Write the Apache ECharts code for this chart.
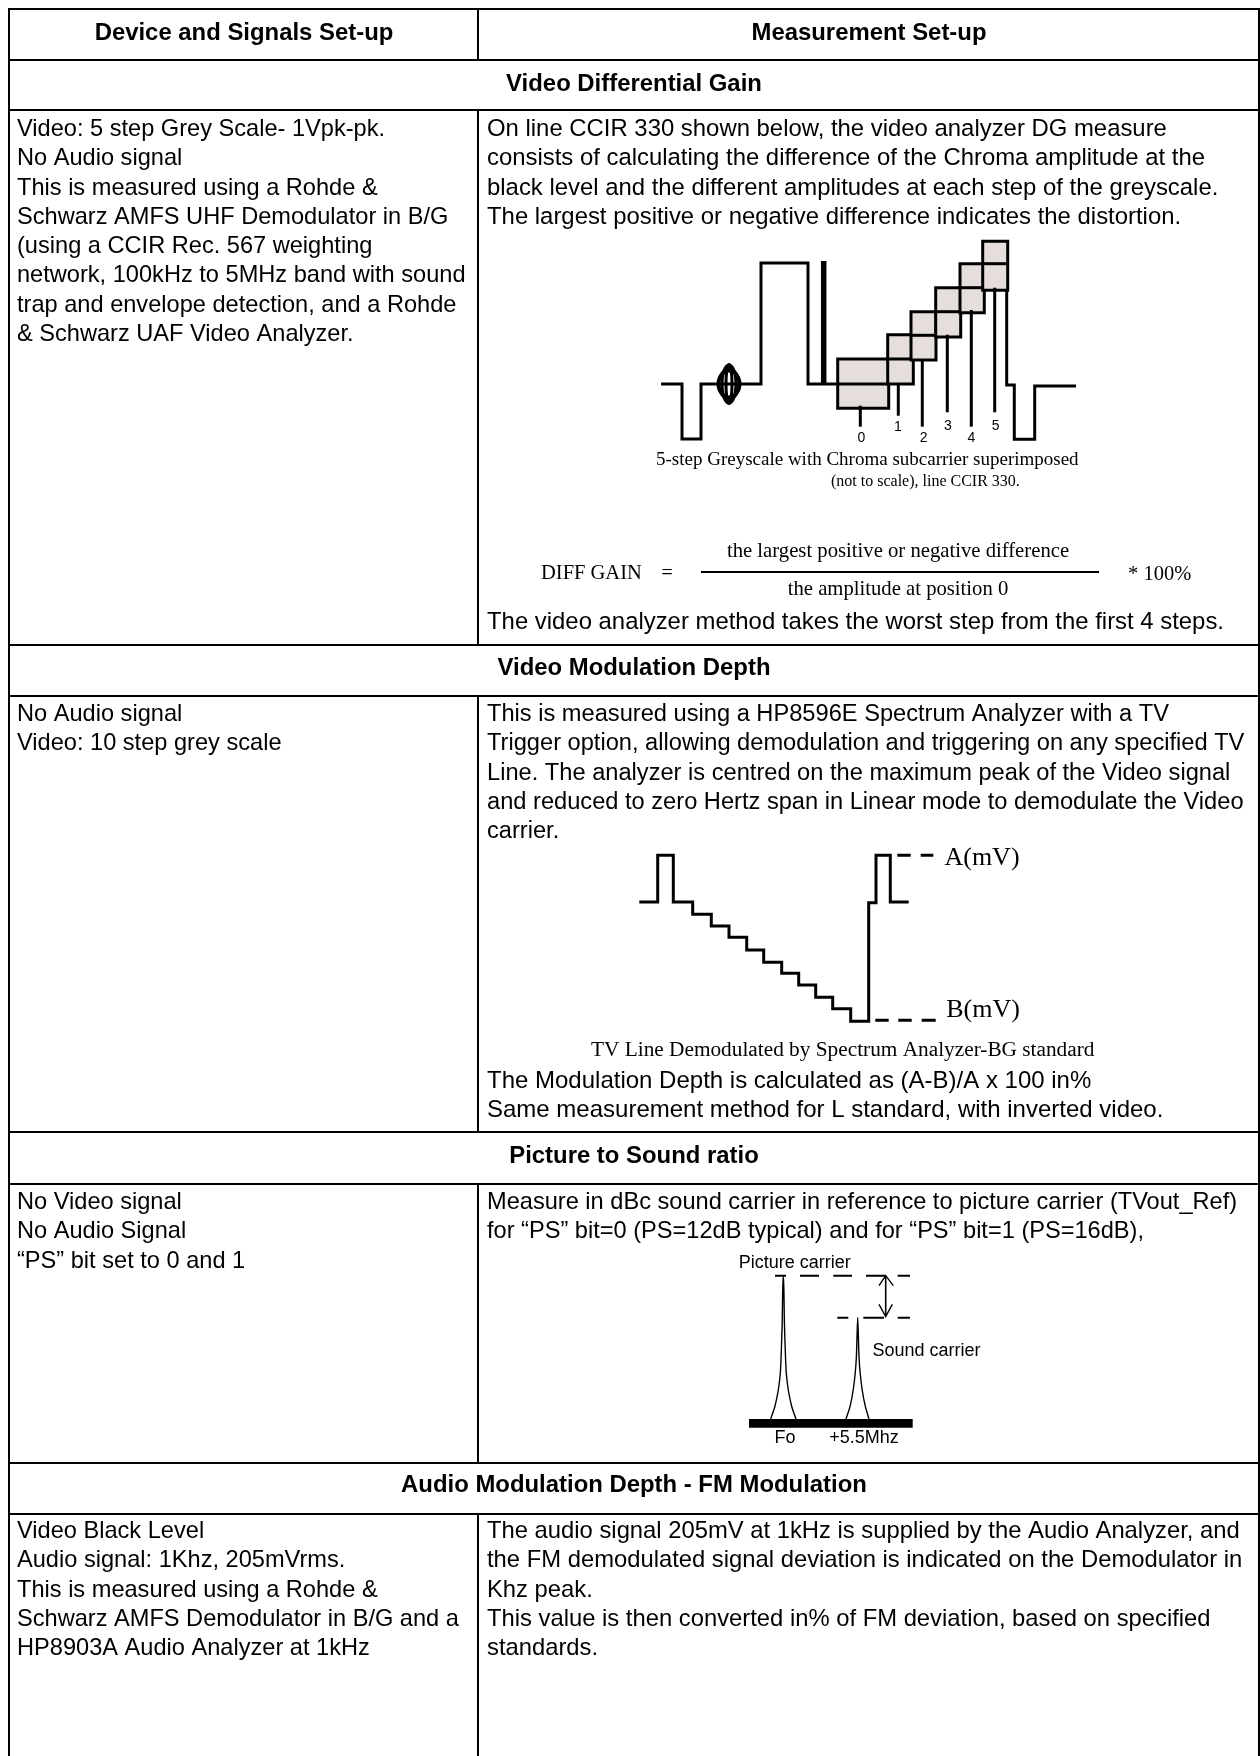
<!DOCTYPE html>
<html>
<head>
<meta charset="utf-8">
<title>Measurement set-up table</title>
<script src="https://cdn.jsdelivr.net/npm/echarts@6/dist/echarts.min.js"></script>
<style>
html, body { margin: 0; padding: 0; background: #fff; }
#chart-container { width: 1260px; height: 1756px; }
</style>
</head>
<body>
<div id="chart-container"></div>
<script>
// table text
const headers = ['Device and Signals Set-up', 'Measurement Set-up'];
const sections = ['Video Differential Gain', 'Video Modulation Depth', 'Picture to Sound ratio', 'Audio Modulation Depth - FM Modulation'];

const gainDevice = ['Video: 5 step Grey Scale- 1Vpk-pk.', 'No Audio signal', 'This is measured using a Rohde &', 'Schwarz AMFS UHF Demodulator in B/G', '(using a CCIR Rec. 567 weighting', 'network, 100kHz to 5MHz band with sound', 'trap and envelope detection, and a Rohde', '& Schwarz UAF Video Analyzer.'];
const gainMeasure = ['On line CCIR 330 shown below, the video analyzer DG measure', 'consists of calculating the difference of the Chroma amplitude at the', 'black level and the different amplitudes at each step of the greyscale.', 'The largest positive or negative difference indicates the distortion.'];
const gainNote = ['The video analyzer method takes the worst step from the first 4 steps.'];
const depthDevice = ['No Audio signal', 'Video: 10 step grey scale'];
const depthMeasure = ['This is measured using a HP8596E Spectrum Analyzer with a TV', 'Trigger option, allowing demodulation and triggering on any specified TV', 'Line. The analyzer is centred on the maximum peak of the Video signal', 'and reduced to zero Hertz span in Linear mode to demodulate the Video', 'carrier.'];
const depthNote = ['The Modulation Depth is calculated as (A-B)/A x 100 in%', 'Same measurement method for L standard, with inverted video.'];
const ratioDevice = ['No Video signal', 'No Audio Signal', '\u201CPS\u201D bit set to 0 and 1'];
const ratioMeasure = ['Measure in dBc sound carrier in reference to picture carrier (TVout_Ref)', 'for \u201CPS\u201D bit=0 (PS=12dB typical) and for \u201CPS\u201D bit=1 (PS=16dB),'];
const audioDevice = ['Video Black Level', 'Audio signal: 1Khz, 205mVrms.', 'This is measured using a Rohde &', 'Schwarz AMFS Demodulator in B/G and a', 'HP8903A Audio Analyzer at 1kHz'];
const audioMeasure = ['The audio signal 205mV at 1kHz is supplied by the Audio Analyzer, and', 'the FM demodulated signal deviation is indicated on the Demodulator in', 'Khz peak.', 'This value is then converted in% of FM deviation, based on specified', 'standards.'];

// greyscale diagram
const greyLeftTime = [11, 32, 32, 51, 51, 111, 111, 158, 158, 188];
const greyLeftLevel = [66, 66, 11, 11, 66, 66, 187, 187, 66, 66];
const greyRightTime = [356.7, 356.7, 364.3, 364.3, 384.7, 384.7, 426];
const greyRightLevel = [209, 65, 65, 10.7, 10.7, 64, 64];
const whiteBarTime = [173.7, 173.7];
const whiteBarLevel = [66, 189];
const burstCentre = [79, 66];
const stepStart = [187.7, 237.7, 261, 285.7, 310, 332.7];
const stepEnd = [238.7, 263.3, 286, 310.7, 334.3, 357.7];
const stepLow = [41.7, 66, 90, 113, 137.3, 159.7];
const stepHigh = [91, 115.3, 138.3, 162.3, 186.3, 208.7];
const stepMid = [66, 91, 114.7, 138.3, 162.3, 186.3];
const pointerTime = [210.3, 248.3, 272.3, 297.3, 321.3, 344.7];
const pointerTop = [44.3, 66, 90, 115.3, 140, 162.3];
const pointerEnd = [23.3, 34.3, 23.3, 37.7, 23.3, 37.7];
const stepNames = ['0', '1', '2', '3', '4', '5'];
const stepNameTime = [211.3, 248, 273.7, 298, 321.3, 345.7];
const stepNameLevel = [12.3, 23.3, 12.3, 24.3, 12.3, 24.3];

// TV line diagram
const tvTime = [9.3, 27.7, 43.3, 62.7, 81.3, 99, 116.7, 133.7, 151.7, 168.7, 185.7, 202.7, 220.7, 238.7, 246, 260.3, 278.7];
const tvLevel = [128, 174.7, 128, 115.7, 104, 92.7, 80, 67.7, 56.7, 45, 32.7, 21.3, 8.7, 127.3, 174.7, 128, 128];
const tvDashA = [[267.3, 280.7], [290.7, 303.3]];
const tvDashB = [[245.3, 258.7], [268.3, 281.7], [291.7, 305.7]];
const tvLevelA = 174.7;
const tvLevelB = 9.7;

// spectrum diagram
const floorRange = [9, 172.7];
const floorLevel = 6.7;
const picturePeakTime = [30.6, 34.8, 38.3, 40.3, 41.1, 42.2, 42.7, 43.3, 43.9, 44.4, 45.5, 46.3, 48.3, 51.8, 56];
const picturePeakLevel = [11, 23.3, 40, 56.7, 73.3, 106.7, 140, 154.3, 140, 106.7, 73.3, 56.7, 40, 23.3, 11];
const soundPeakTime = [106, 110, 113.2, 115.2, 116.4, 117.1, 117.7, 118.3, 119, 120.2, 122.2, 125.4, 129];
const soundPeakLevel = [11, 23.3, 40, 56.7, 73.3, 96, 112.5, 96, 73.3, 56.7, 40, 23.3, 11];
const pictureDash = [[35, 46], [60, 79], [93.3, 112], [126, 145.7], [157.7, 170]];
const soundDash = [[97.3, 108.3], [123.3, 144], [157.7, 170]];
const pictureLevel = 154.3;
const soundLevel = 112.3;
const arrowTime = 145.7;
const arrowTopWing = [[139, 144.3], [145.7, 154.3], [153.3, 144.3]];
const arrowLowWing = [[139, 125.7], [145.7, 113.5], [152.3, 125.7]];

const SANS = '"Liberation Sans", Arial, sans-serif';
const SERIF = '"Liberation Serif", "Times New Roman", serif';
const boldFont = 'bold 23.9px ' + SANS;
const LINE_H = 29.25;

function chartDisplay() {
    const chartDom = document.getElementById('chart-container');
    return echarts.init(chartDom, null, { renderer: 'canvas', width: 1260, height: 1756 });
}

function rule(x1, y1, x2, y2, lineWidth) {
    return { type: 'line', silent: true, shape: { x1, y1, x2, y2 }, style: { stroke: '#000', lineWidth: lineWidth || 2 } };
}

function text(str, x, y, font, align) {
    return { type: 'text', silent: true, style: { text: str, x, y, font, fill: '#000', align: align || 'left', verticalAlign: 'middle' } };
}

function block(lines, x, y, size) {
    return lines.map((l, i) => text(l, x, y + i * LINE_H, size + 'px ' + SANS));
}

function tableGraphics() {
    const g = [];
    const colX = 478;
    [9, 60, 110, 645, 696, 1132, 1184, 1463, 1514].forEach(y => g.push(rule(8, y, 1260, y)));
    g.push(rule(9, 8, 9, 1756));
    g.push(rule(1259, 8, 1259, 1756));
    [[9, 60], [110, 645], [696, 1132], [1184, 1463], [1514, 1756]].forEach(r => g.push(rule(colX, r[0], colX, r[1])));

    g.push(text(headers[0], 244, 33, boldFont, 'center'));
    g.push(text(headers[1], 869, 33, boldFont, 'center'));
    [84, 668.5, 1156.5, 1485.5].forEach((y, i) => g.push(text(sections[i], 634, y, boldFont, 'center')));

    g.push(...block(gainDevice, 17, 129.5, 23.6));
    g.push(...block(gainMeasure, 487, 129.5, 23.9));
    g.push(...block(gainNote, 487, 622.5, 23.9));
    g.push(...block(depthDevice, 17, 714.5, 23.6));
    g.push(...block(depthMeasure, 487, 714.5, 23.65));
    g.push(...block(depthNote, 487, 1081.5, 24));
    g.push(...block(ratioDevice, 17, 1202.5, 23.6));
    g.push(...block(ratioMeasure, 487, 1202.5, 23.6));
    g.push(...block(audioDevice, 17, 1531.5, 23.6));
    g.push(...block(audioMeasure, 487, 1531.5, 23.8));

    g.push(text('5-step Greyscale with Chroma subcarrier superimposed', 656, 460, '19px ' + SERIF));
    g.push(text('(not to scale), line CCIR 330.', 831, 482, '16px ' + SERIF));
    g.push(text('TV Line Demodulated by Spectrum Analyzer-BG standard', 591, 1050, '21.3px ' + SERIF));

    g.push(text('DIFF GAIN', 541, 574, '20.5px ' + SERIF));
    g.push(text('=', 667, 574, '20.5px ' + SERIF, 'center'));
    g.push(text('the largest positive or negative difference', 898, 552, '20.7px ' + SERIF, 'center'));
    g.push(text('the amplitude at position 0', 898, 590, '20.7px ' + SERIF, 'center'));
    g.push(text('* 100%', 1128, 575, '20.5px ' + SERIF));
    g.push(rule(701, 572, 1099, 572, 2));
    return g;
}

function zip(a, b) {
    return a.map((v, i) => [v, b[i]]);
}

function lineSeries(index, data, width, extra) {
    return Object.assign({
        type: 'line', xAxisIndex: index, yAxisIndex: index, data,
        symbol: 'none', silent: true, clip: false, animation: false,
        lineStyle: { color: '#000', width, cap: 'butt', join: 'miter' }
    }, extra || {});
}

function dashes(index, spans, level, width) {
    const data = [];
    spans.forEach(s => data.push([s[0], level], [s[1], level], [null, null]));
    return lineSeries(index, data, width);
}

function labelSeries(index, names, times, levels, font, size) {
    return {
        type: 'scatter', xAxisIndex: index, yAxisIndex: index, silent: true, animation: false,
        symbolSize: 0,
        itemStyle: { opacity: 1 },
        data: names.map((n, i) => ({ value: [times[i], levels[i]], name: n })),
        label: { show: true, position: 'inside', formatter: '{b}', color: '#000', fontFamily: font, fontSize: size }
    };
}

function renderStep(params, api) {
    const i = params.dataIndex;
    const a = api.coord([stepStart[i], stepHigh[i]]);
    const b = api.coord([stepEnd[i], stepLow[i]]);
    const m = api.coord([stepStart[i], stepMid[i]]);
    const style = { stroke: '#000', lineWidth: 3 };
    return {
        type: 'group',
        children: [
            { type: 'rect', shape: { x: a[0], y: a[1], width: b[0] - a[0], height: b[1] - a[1] }, style: { fill: '#e6dedd', stroke: '#000', lineWidth: 3 } },
            { type: 'line', shape: { x1: a[0], y1: m[1], x2: b[0], y2: m[1] }, style }
        ]
    };
}

function renderPointer(params, api) {
    const i = params.dataIndex;
    const a = api.coord([pointerTime[i], pointerTop[i]]);
    const b = api.coord([pointerTime[i], pointerEnd[i]]);
    return { type: 'line', shape: { x1: a[0], y1: a[1], x2: b[0], y2: b[1] }, style: { stroke: '#000', lineWidth: 3 } };
}

function renderBurst(params, api) {
    const c = api.coord(burstCentre);
    const rings = [[11, 13], [10, 15], [7, 19], [3, 19.5]];
    return {
        type: 'group',
        children: rings.map(r => ({
            type: 'ellipse',
            shape: { cx: c[0], cy: c[1], rx: r[0], ry: r[1] },
            style: { fill: 'none', stroke: '#000', lineWidth: 3 }
        }))
    };
}

function customSeries(index, count, renderItem, z) {
    return {
        type: 'custom', xAxisIndex: index, yAxisIndex: index, silent: true, animation: false, clip: false, z: z,
        data: stepNames.slice(0, count).map((n, i) => [i]),
        renderItem
    };
}

function hiddenX(index, max) {
    return { type: 'value', gridIndex: index, min: 0, max, show: false };
}

function hiddenY(index, min, max) {
    return { type: 'value', gridIndex: index, min, max, show: false };
}

const myChart = chartDisplay();
myChart.setOption({
    animation: false,
    backgroundColor: '#fff',
    graphic: { elements: tableGraphics() },
    grid: [
        { left: 650, top: 240, width: 440, height: 210 },
        { left: 630, top: 850, width: 400, height: 180 },
        { left: 740, top: 1260, width: 260, height: 180 }
    ],
    xAxis: [hiddenX(0, 440), hiddenX(1, 400), hiddenX(2, 260)],
    yAxis: [hiddenY(0, 0, 210), hiddenY(1, 0, 180), hiddenY(2, -10, 170)],
    series: [
        lineSeries(0, zip(greyLeftTime, greyLeftLevel), 3),
        lineSeries(0, zip(whiteBarTime, whiteBarLevel), 5.5),
        lineSeries(0, zip(greyRightTime, greyRightLevel), 3),
        customSeries(0, 1, renderBurst, 3),
        customSeries(0, stepStart.length, renderStep, 4),
        customSeries(0, pointerTime.length, renderPointer, 5),
        labelSeries(0, stepNames, stepNameTime, stepNameLevel, SANS, 14),

        lineSeries(1, zip(tvTime, tvLevel), 3, { step: 'end' }),
        dashes(1, tvDashA, tvLevelA, 3),
        dashes(1, tvDashB, tvLevelB, 3),
        labelSeries(1, ['A(mV)', 'B(mV)'], [352, 353], [172, 20], SERIF, 26),

        lineSeries(2, zip(floorRange, [floorLevel, floorLevel]), 8.7),
        lineSeries(2, zip(picturePeakTime, picturePeakLevel), 1.4, { smooth: 0.2 }),
        lineSeries(2, zip(soundPeakTime, soundPeakLevel), 1.4, { smooth: 0.2 }),
        dashes(2, pictureDash, pictureLevel, 2),
        dashes(2, soundDash, soundLevel, 2),
        lineSeries(2, [[arrowTime, pictureLevel], [arrowTime, 113.5]], 1.6),
        lineSeries(2, arrowTopWing, 1.4),
        lineSeries(2, arrowLowWing, 1.4),
        labelSeries(2, ['Picture carrier', 'Sound carrier', 'Fo', '+5.5Mhz'], [54.7, 186.5, 45, 124], [167.3, 79, -8, -8], SANS, 18)
    ]
});
</script>
</body>
</html>
